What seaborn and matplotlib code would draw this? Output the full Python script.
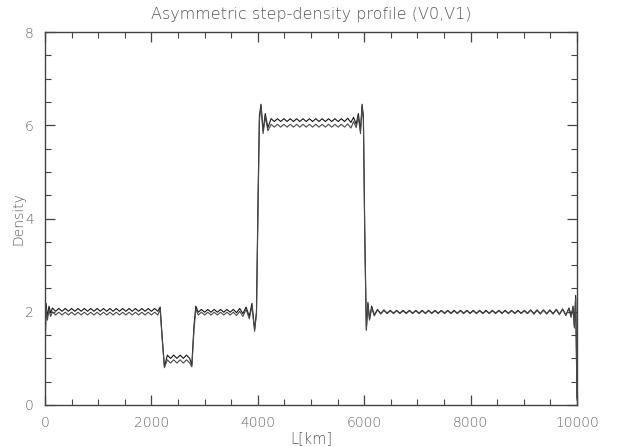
import numpy as np
import pandas as pd
import matplotlib
matplotlib.use("Agg")
import matplotlib.pyplot as plt
from matplotlib.ticker import MultipleLocator
import seaborn as sns

# ---- data (x in km, density) ----
x_seg1 = [0, 20, 45, 75, 105, 140,
          200, 260, 320, 380, 440, 500, 560, 620, 680, 740, 800, 860, 920, 980,
          1040, 1100, 1160, 1220, 1280, 1340, 1400, 1460, 1520, 1580, 1640, 1700,
          1760, 1820, 1880, 1940, 2000, 2060, 2120,
          2165, 2200, 2245]
v0_seg1 = [1.15, 2.18, 1.88, 2.12, 1.98, 2.08,
           2.01, 2.07, 2.01, 2.07, 2.01, 2.07, 2.01, 2.07, 2.01, 2.07,
           2.01, 2.07, 2.01, 2.07, 2.01, 2.07, 2.01, 2.07, 2.01, 2.07,
           2.01, 2.07, 2.01, 2.07, 2.01, 2.07, 2.01, 2.07, 2.01, 2.07,
           2.01, 2.07, 2.01,
           2.10, 1.50, 0.82]
v1_seg1 = [1.05, 2.10, 1.82, 2.05, 1.90, 2.00,
           1.93, 1.99, 1.93, 1.99, 1.93, 1.99, 1.93, 1.99, 1.93, 1.99,
           1.93, 1.99, 1.93, 1.99, 1.93, 1.99, 1.93, 1.99, 1.93, 1.99,
           1.93, 1.99, 1.93, 1.99, 1.93, 1.99, 1.93, 1.99, 1.93, 1.99,
           1.93, 1.99, 1.93,
           2.05, 1.45, 0.80]

x_seg2 = [2300, 2360, 2420, 2480, 2540, 2600, 2660, 2720, 2760, 2800, 2835]
v0_seg2 = [1.07, 1.00, 1.07, 1.00, 1.07, 1.00, 1.07, 1.00, 0.85, 1.70, 2.12]
v1_seg2 = [0.97, 0.90, 0.97, 0.90, 0.97, 0.90, 0.97, 0.90, 0.82, 1.60, 2.06]

x_seg3 = [2880, 2940, 3000, 3060, 3120, 3180, 3240, 3300, 3360, 3420, 3480,
          3540, 3600, 3660, 3720, 3780, 3840, 3890, 3940, 3975, 4005, 4030, 4060]
v0_seg3 = [1.99, 2.05, 1.99, 2.05, 1.99, 2.05, 1.99, 2.05, 1.99, 2.05, 1.99,
           2.05, 1.98, 2.07, 1.96, 2.10, 1.90, 2.18, 1.62, 2.00, 4.50, 6.20, 6.45]
v1_seg3 = [1.93, 1.99, 1.93, 1.99, 1.93, 1.99, 1.93, 1.99, 1.93, 1.99, 1.93,
           1.99, 1.92, 2.01, 1.90, 2.05, 1.85, 2.12, 1.58, 1.95, 4.30, 6.10, 6.42]

x_seg4 = [4100, 4140, 4190,
          4250, 4310, 4370, 4430, 4490, 4550, 4610, 4670, 4730, 4790,
          4850, 4910, 4970, 5030, 5090, 5150, 5210, 5270, 5330, 5390,
          5450, 5510, 5570, 5630, 5690, 5750,
          5800, 5850, 5890, 5930, 5960, 5985, 6010, 6040, 6070, 6100, 6140, 6190]
v0_seg4 = [5.88, 6.25, 5.95,
           6.14, 6.08, 6.14, 6.08, 6.14, 6.08, 6.14, 6.08, 6.14, 6.08,
           6.14, 6.08, 6.14, 6.08, 6.14, 6.08, 6.14, 6.08, 6.14, 6.08,
           6.14, 6.08, 6.14, 6.08, 6.15, 6.06,
           6.17, 6.02, 6.25, 5.88, 6.45, 6.20, 3.80, 1.62, 2.20, 1.84, 2.12, 1.93]
v1_seg4 = [5.82, 6.18, 5.88,
           6.02, 5.96, 6.02, 5.96, 6.02, 5.96, 6.02, 5.96, 6.02, 5.96,
           6.02, 5.96, 6.02, 5.96, 6.02, 5.96, 6.02, 5.96, 6.02, 5.96,
           6.02, 5.96, 6.02, 5.96, 6.03, 5.94,
           6.08, 5.95, 6.18, 5.82, 6.40, 6.10, 3.60, 1.60, 2.15, 1.82, 2.08, 1.91]

x_seg5 = [6250, 6310, 6370, 6430, 6490, 6550, 6610, 6670, 6730, 6790,
          6850, 6910, 6970, 7030, 7090, 7150, 7210, 7270, 7330, 7390,
          7450, 7510, 7570, 7630, 7690, 7750, 7810, 7870, 7930, 7990,
          8050, 8110, 8170, 8230, 8290, 8350, 8410, 8470, 8530, 8590,
          8650, 8710, 8770, 8830, 8890, 8950, 9010, 9070, 9130, 9190,
          9250, 9310, 9370, 9430, 9490, 9550, 9610, 9670, 9730, 9790,
          9850, 9890, 9925, 9950, 9975, 10000]
v0_seg5 = [2.05, 1.96, 2.04, 1.97, 2.03, 1.97, 2.03, 1.97, 2.03, 1.97,
           2.03, 1.97, 2.03, 1.97, 2.03, 1.97, 2.03, 1.97, 2.03, 1.97,
           2.03, 1.97, 2.03, 1.97, 2.03, 1.97, 2.03, 1.97, 2.03, 1.97,
           2.03, 1.97, 2.03, 1.97, 2.03, 1.97, 2.03, 1.97, 2.03, 1.97,
           2.03, 1.97, 2.03, 1.97, 2.03, 1.97, 2.03, 1.97, 2.04, 1.96,
           2.04, 1.96, 2.04, 1.96, 2.04, 1.96, 2.05, 1.95, 2.06, 1.93,
           2.08, 1.90, 2.12, 1.70, 2.35, 0.15]
v1_seg5 = [2.04, 1.95, 2.03, 1.96, 2.02, 1.96, 2.02, 1.96, 2.02, 1.96,
           2.02, 1.96, 2.02, 1.96, 2.02, 1.96, 2.02, 1.96, 2.02, 1.96,
           2.02, 1.96, 2.02, 1.96, 2.02, 1.96, 2.02, 1.96, 2.02, 1.96,
           2.02, 1.96, 2.02, 1.96, 2.02, 1.96, 2.02, 1.96, 2.02, 1.96,
           2.02, 1.96, 2.02, 1.96, 2.02, 1.96, 2.02, 1.96, 2.03, 1.95,
           2.03, 1.95, 2.03, 1.95, 2.03, 1.95, 2.04, 1.94, 2.05, 1.92,
           2.07, 1.88, 2.10, 1.65, 2.30, 0.10]

x_all = x_seg1 + x_seg2 + x_seg3 + x_seg4 + x_seg5
v0_all = v0_seg1 + v0_seg2 + v0_seg3 + v0_seg4 + v0_seg5
v1_all = v1_seg1 + v1_seg2 + v1_seg3 + v1_seg4 + v1_seg5
assert len(x_all) == len(v0_all) == len(v1_all), (len(x_all), len(v0_all), len(v1_all))

df = pd.DataFrame({
    "L": x_all + x_all,
    "Density": v0_all + v1_all,
    "series": ["V0"] * len(x_all) + ["V1"] * len(x_all),
})

sns.set_style("white")
plt.rcParams['font.family'] = ['DejaVu Sans']

fig = plt.figure(figsize=(6.17, 4.47), dpi=100)
ax = fig.add_axes([45/617, 42/447, 532/617, 373/447])

sns.lineplot(data=df, x="L", y="Density", hue="series",
             palette={"V0": "#151515", "V1": "#4a4a4a"},
             estimator=None, sort=False, legend=False, linewidth=0.8, ax=ax)

ax.set_xlim(0, 10000)
ax.set_ylim(0, 8)
ax.xaxis.set_major_locator(MultipleLocator(2000))
ax.xaxis.set_minor_locator(MultipleLocator(500))
ax.yaxis.set_major_locator(MultipleLocator(2))
ax.yaxis.set_minor_locator(MultipleLocator(0.5))

txt = "#555555"
for s in ax.spines.values():
    s.set_color("#444444")
    s.set_linewidth(1.0)
ax.tick_params(which="both", direction="in", top=True, right=True,
               bottom=True, left=True,
               colors="#444444", labelcolor="#666666", labelsize=10)
ax.tick_params(which="major", length=7, width=0.9, pad=8)
ax.tick_params(which="minor", length=4, width=0.8)
for lab in ax.get_xticklabels() + ax.get_yticklabels():
    lab.set_fontweight("light")

ax.set_title("Asymmetric step-density profile (V0,V1)", fontsize=11.5,
             color=txt, pad=9, fontweight="light")
ax.set_xlabel("L[km]", fontsize=10.5, color=txt, labelpad=1, fontweight="light")
ax.set_ylabel("Density", fontsize=10, color=txt, labelpad=0, fontweight="light")

fig.savefig("out.png", dpi=100)
